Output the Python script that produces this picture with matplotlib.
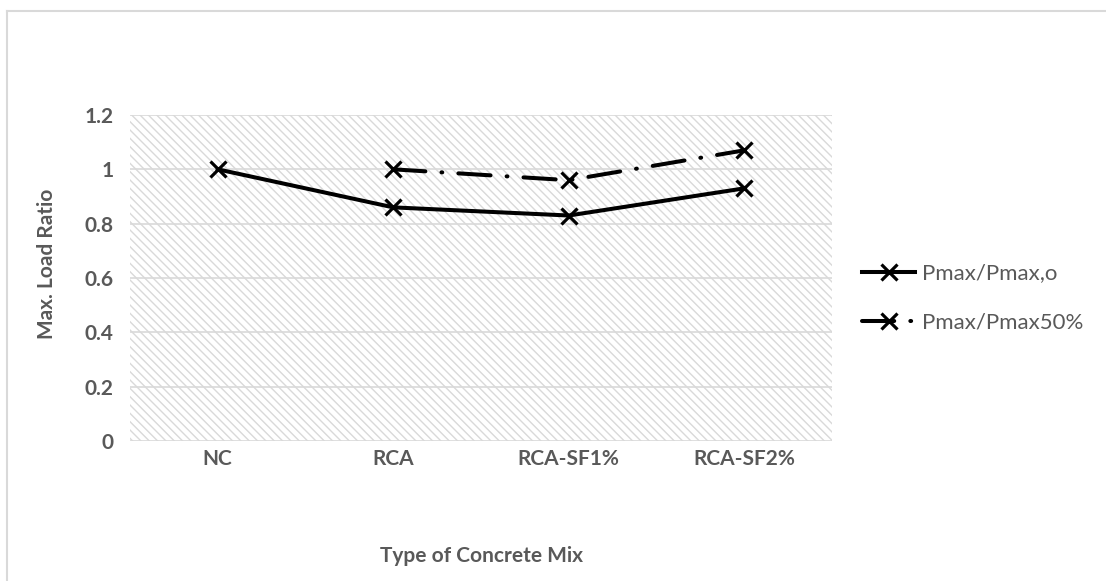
import numpy as np
import matplotlib
matplotlib.use("Agg")
import matplotlib.pyplot as plt
from matplotlib.lines import Line2D

# data
mixes = ["NC", "RCA", "RCA-SF1%", "RCA-SF2%"]
ratio_o = [1.0, 0.86, 0.83, 0.93]
ratio_50 = [np.nan, 1.0, 0.96, 1.07]
yticks = [0, 0.2, 0.4, 0.6, 0.8, 1, 1.2]

plt.rcParams["font.family"] = ["Lato", "DejaVu Sans"]
plt.rcParams["hatch.color"] = "#d9d9d9"
plt.rcParams["hatch.linewidth"] = 1.0

txt = "#595959"

fig = plt.figure(figsize=(11.06, 5.81), dpi=100)
ax = fig.add_axes([130 / 1106, 1 - 441 / 581, 702 / 1106, 326 / 581])

# hatched plot area
ax.patch.set_facecolor("white")
ax.patch.set_hatch("\\\\\\\\")
ax.patch.set_edgecolor("#d9d9d9")
ax.patch.set_linewidth(0)

x = np.arange(len(mixes))
ax.plot(x, ratio_o, color="black", lw=2.9, marker="x", ms=12, mew=2.3,
        label="Pmax/Pmax,o", zorder=3)
ax.plot(x, ratio_50, color="black", lw=2.9, marker="x", ms=12, mew=2.3,
        linestyle=(0, (8, 4, 0.2, 4)), dash_capstyle="round",
        label="Pmax/Pmax50%", zorder=3)

ax.set_xlim(-0.5, 3.5)
ax.set_ylim(0, 1.2)
ax.set_yticks(yticks)
ax.set_yticklabels(["0", "0.2", "0.4", "0.6", "0.8", "1", "1.2"])
ax.set_xticks(x)
ax.set_xticklabels(mixes)
ax.grid(axis="y", color="#d9d9d9", lw=1.2)
ax.set_axisbelow(True)
for s in ax.spines.values():
    s.set_visible(False)
ax.tick_params(length=0, colors=txt, labelsize=15)
for lab in ax.get_xticklabels() + ax.get_yticklabels():
    lab.set_fontweight("bold")
ax.tick_params(axis="x", pad=6)
ax.tick_params(axis="y", pad=12)

fig.text(47 / 1106, 1 - 264 / 581, "Max. Load Ratio", rotation=90, ha="center",
         va="center", fontsize=15, fontweight="bold", color=txt)
fig.text(481 / 1106, 1 - 556 / 581, "Type of Concrete Mix", ha="center",
         va="center", fontsize=15, fontweight="bold", color=txt)

leg = fig.legend(loc="center left", bbox_to_anchor=(842 / 1106, 1 - 298 / 581),
                 frameon=False, fontsize=16, handlelength=2.4, labelspacing=1.3,
                 handletextpad=0.3)
for t in leg.get_texts():
    t.set_color(txt)

# outer chart border (left and top only)
fig.add_artist(Line2D([6.5 / 1106, 6.5 / 1106], [0, 1 - 10.5 / 581],
                      color="#d9d9d9", lw=1.5, transform=fig.transFigure))
fig.add_artist(Line2D([6.5 / 1106, 1], [1 - 10.5 / 581, 1 - 10.5 / 581],
                      color="#d9d9d9", lw=1.5, transform=fig.transFigure))

fig.savefig("out.png", dpi=100)
